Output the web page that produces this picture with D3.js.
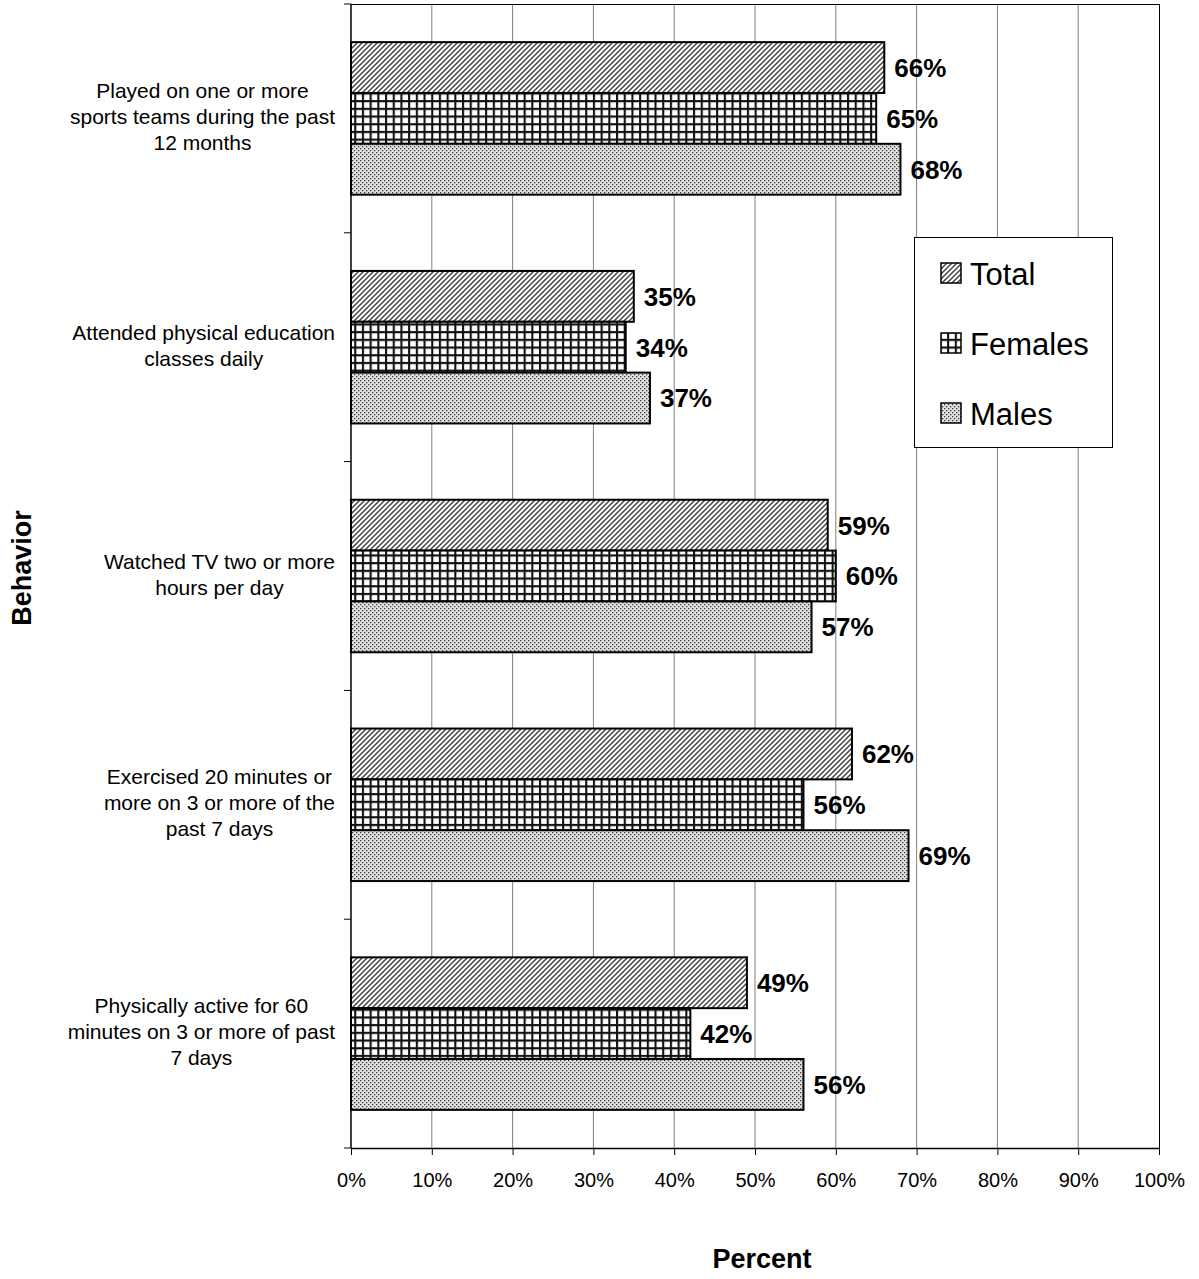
<!DOCTYPE html>
<html><head><meta charset="utf-8">
<script src="https://cdn.jsdelivr.net/npm/d3@7"></script>
<style>body{margin:0;background:#fff}svg{display:block}text{font-family:"Liberation Sans",Arial,sans-serif}</style>
</head><body>
<script>
const categories = [
  ["Played on one or more", "sports teams during the past", "12 months"],
  ["Attended physical education", "classes daily"],
  ["Watched TV two or more", "hours per day"],
  ["Exercised 20 minutes or", "more on 3 or more of the", "past 7 days"],
  ["Physically active for 60", "minutes on 3 or more of past", "7 days"]
];
const seriesNames = ["Total", "Females", "Males"];
const totalValues = [66, 35, 59, 62, 49];
const femaleValues = [65, 34, 60, 56, 42];
const maleValues = [68, 37, 57, 69, 56];
const tickValues = [0,10,20,30,40,50,60,70,80,90,100];

const W = 1199, H = 1279;
const m = {left:351, right:1159, top:4, bottom:1148};
const svg = d3.select("body").append("svg").attr("width", W).attr("height", H);

const defs = svg.append("defs");
// Total: diagonal hatch
const p1 = defs.append("pattern").attr("id","pTotal").attr("patternUnits","userSpaceOnUse").attr("width",5).attr("height",5);
p1.append("rect").attr("width",5).attr("height",5).attr("fill","#fff");
p1.append("path").attr("d","M-1,6 L6,-1 M-2,2 L2,-2 M3,7 L7,3").attr("stroke","#444").attr("stroke-width",1.5);
// Females: grid
const gp = 7.7;
const p2 = defs.append("pattern").attr("id","pFemales").attr("patternUnits","userSpaceOnUse").attr("width",gp).attr("height",gp);
p2.append("rect").attr("width",gp).attr("height",gp).attr("fill","#fff");
p2.append("path").attr("d",`M1,0 V${gp} M0,1 H${gp}`).attr("stroke","#111").attr("stroke-width",2.2);
// Males: dots
const p3 = defs.append("pattern").attr("id","pMales").attr("patternUnits","userSpaceOnUse").attr("width",4).attr("height",4);
p3.append("rect").attr("width",4).attr("height",4).attr("fill","#e0e0e0");
p3.append("rect").attr("x",0).attr("y",0).attr("width",1.3).attr("height",1.3).attr("fill","#404040");
p3.append("rect").attr("x",2).attr("y",2).attr("width",1.3).attr("height",1.3).attr("fill","#404040");
const fills = ["url(#pTotal)","url(#pFemales)","url(#pMales)"];

const x = d3.scaleLinear().domain([0,100]).range([m.left, m.right]);
const y = d3.scaleBand().domain(d3.range(categories.length)).range([m.top, m.bottom]).paddingInner(0).paddingOuter(0);
const inner = d3.scaleBand().domain(seriesNames).range([0, y.bandwidth()]).paddingInner(0).paddingOuter(0.75);

// gridlines
svg.append("g").selectAll("line").data(tickValues.slice(1,-1)).join("line")
  .attr("x1", d=>x(d)).attr("x2", d=>x(d)).attr("y1", m.top).attr("y2", m.bottom)
  .attr("stroke","#808080").attr("stroke-width",1);
// plot border top/right
svg.append("line").attr("x1",m.left).attr("x2",m.right).attr("y1",m.top+0.5).attr("y2",m.top+0.5).attr("stroke","#000");
svg.append("line").attr("x1",m.right+0.5).attr("x2",m.right+0.5).attr("y1",m.top).attr("y2",m.bottom).attr("stroke","#000");

// bars
const data = [totalValues, femaleValues, maleValues];
categories.forEach((c, i) => {
  seriesNames.forEach((s, j) => {
    const v = data[j][i];
    const yy = y(i) + inner(s);
    svg.append("rect").attr("x", x(0)).attr("y", yy).attr("width", x(v)-x(0)).attr("height", inner.bandwidth())
      .attr("fill", fills[j]).attr("stroke","#000").attr("stroke-width",2);
    svg.append("text").attr("x", x(v)+10).attr("y", yy + inner.bandwidth()/2).attr("dy","0.36em")
      .attr("font-size",26).attr("font-weight","bold").attr("fill","#000").text(v+"%");
  });
});

// x axis
const xAxis = svg.append("g").attr("transform",`translate(0,${m.bottom})`)
  .call(d3.axisBottom(x).tickValues(tickValues).tickFormat(d=>d+"%").tickSize(7).tickSizeOuter(0));
xAxis.select(".domain").attr("stroke","#000").attr("stroke-width",1.5);
xAxis.selectAll(".tick line").attr("stroke","#000");
xAxis.selectAll(".tick text").attr("font-size",20).attr("fill","#000").attr("y",39).attr("dy",null)
  .attr("font-family",'"Liberation Sans",Arial,sans-serif');

// y axis
const yAxis = svg.append("g").attr("transform",`translate(${m.left},0)`);
yAxis.append("line").attr("x1",0).attr("x2",0).attr("y1",m.top).attr("y2",m.bottom).attr("stroke","#000").attr("stroke-width",1.5);
const bounds = d3.range(categories.length+1).map(i => i < categories.length ? y(i) : m.bottom);
yAxis.selectAll("line.t").data(bounds).join("line").attr("class","t")
  .attr("x1",-7).attr("x2",0).attr("y1",d=>d).attr("y2",d=>d).attr("stroke","#000");

// category labels: block right-aligned at 335, lines centered within block
const lh = 26;
categories.forEach((lines, i) => {
  const g = svg.append("g");
  const cy = y(i) + y.bandwidth()/2 - 2;
  const texts = lines.map((l, k) => g.append("text").attr("font-size",21).attr("fill","#000")
    .attr("text-anchor","middle").attr("y", cy + (k - (lines.length-1)/2)*lh).attr("dy","0.36em").text(l));
  const wmax = d3.max(texts, t => t.node().getComputedTextLength());
  texts.forEach(t => t.attr("x", 335 - wmax/2));
});

// axis titles
svg.append("text").attr("transform","translate(31,568) rotate(-90)").attr("text-anchor","middle")
  .attr("font-size",27).attr("font-weight","bold").text("Behavior");
svg.append("text").attr("x",762).attr("y",1268).attr("text-anchor","middle")
  .attr("font-size",27).attr("font-weight","bold").text("Percent");

// legend
const lg = svg.append("g");
lg.append("rect").attr("x",914.5).attr("y",237.5).attr("width",198).attr("height",210).attr("fill","#fff").attr("stroke","#000");
seriesNames.forEach((s, j) => {
  const cy = 273 + j*70;
  lg.append("rect").attr("x",941).attr("y",cy-10).attr("width",20).attr("height",20).attr("fill",fills[j]).attr("stroke","#000").attr("stroke-width",1.5);
  lg.append("text").attr("x",970).attr("y",cy + 12).attr("font-size",31).attr("fill","#000").text(s);
});
</script>
</body></html>
